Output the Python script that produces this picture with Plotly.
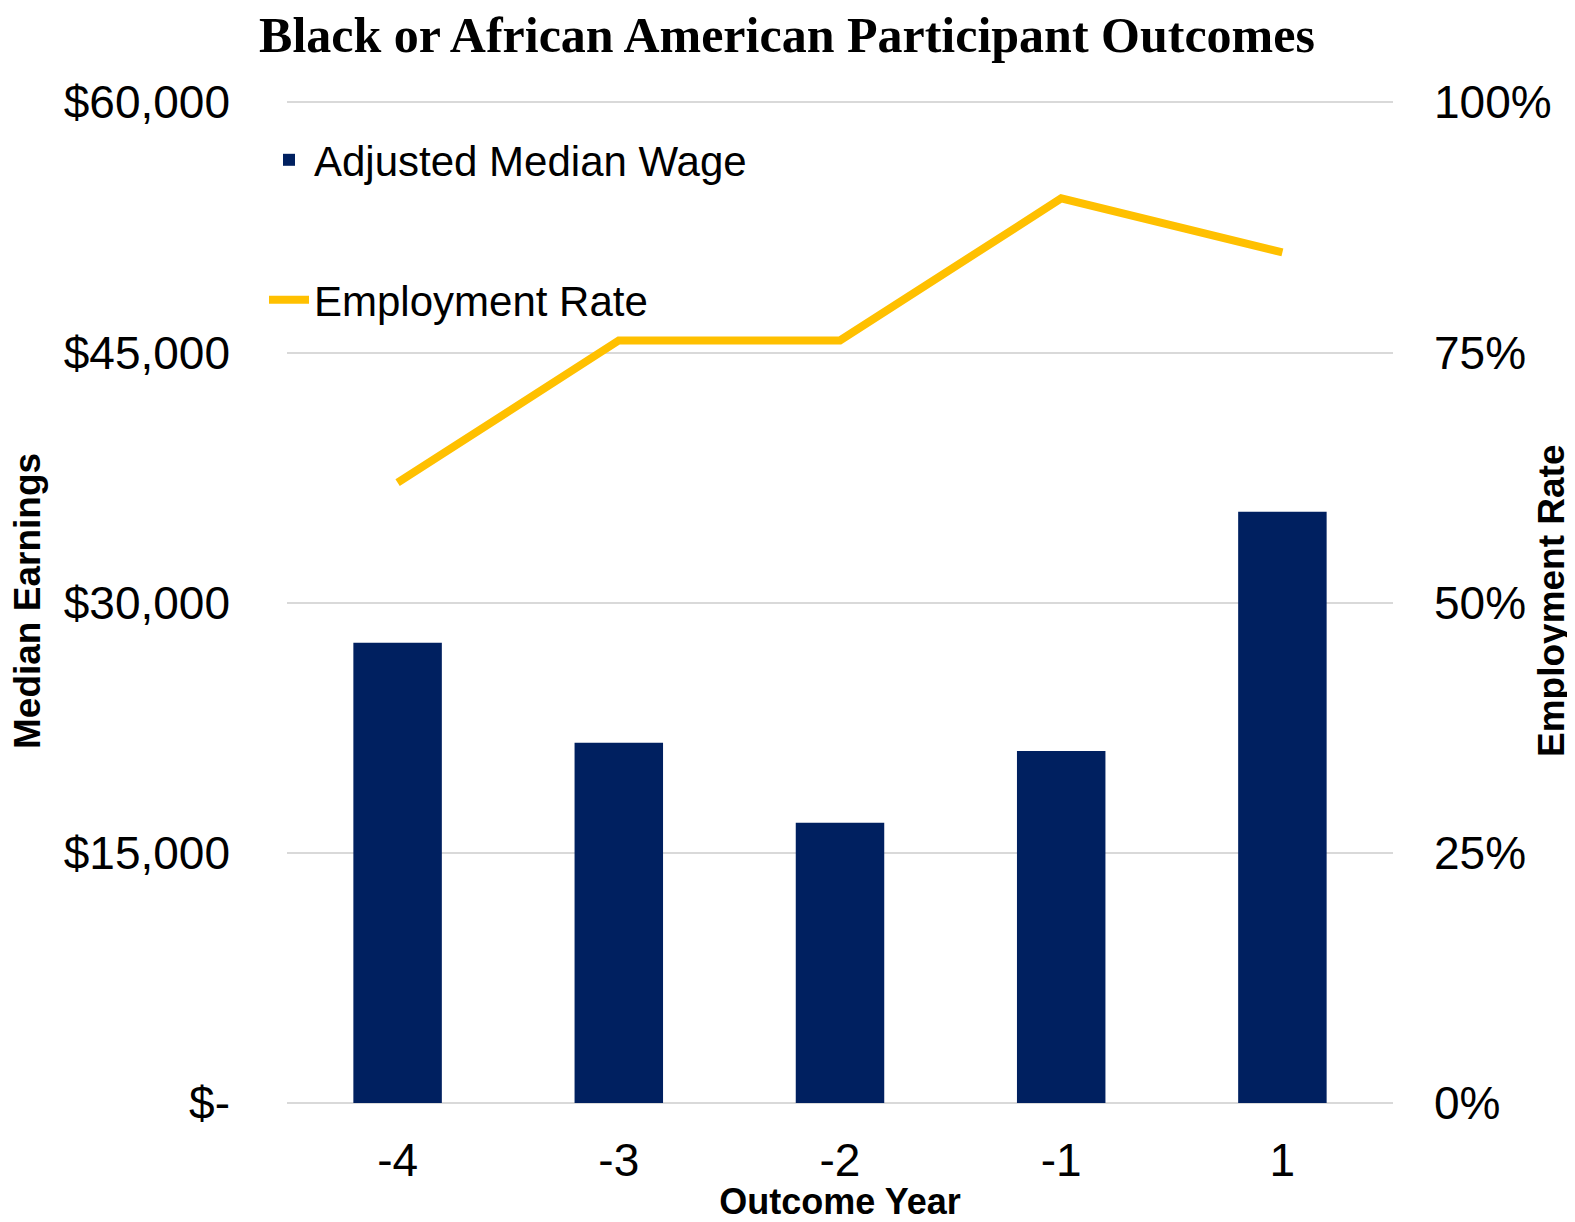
import plotly.graph_objects as go

years = ["-4", "-3", "-2", "-1", "1"]
median_wage = [27600, 21600, 16800, 21100, 35450]
employment_rate = [0.62, 0.762, 0.762, 0.904, 0.850]

left_tickvals = [0, 15000, 30000, 45000, 60000]
left_ticktext = ["$-", "$15,000", "$30,000", "$45,000", "$60,000"]
right_tickvals = [0, 0.25, 0.5, 0.75, 1.0]
right_ticktext = ["0%", "25%", "50%", "75%", "100%"]

FONT = "Liberation Sans, Arial, sans-serif"
W, H = 1567, 1214  # page body has an 8px default margin
ML, MR, MT, MB = 279, 182, 91, 119
PW, PH = W - ML - MR, H - MT - MB


def px_to_paper_x(px):
    return (px - 8 - ML) / PW


def px_to_paper_y(py):
    return 1 - (py - 8 - MT) / PH


fig = go.Figure()
fig.add_trace(go.Bar(x=years, y=median_wage, name="Adjusted Median Wage",
                     marker=dict(color="#002060", line=dict(width=0)),
                     legend="legend"))
fig.add_trace(go.Scatter(x=years, y=employment_rate, name="Employment Rate",
                         mode="lines", yaxis="y2",
                         line=dict(color="#FFC000", width=8),
                         legend="legend2"))

fig.update_layout(
    width=W, height=H,
    margin=dict(l=ML, r=MR, t=MT, b=MB, autoexpand=False),
    paper_bgcolor="white", plot_bgcolor="white",
    bargap=0.6,
    title=dict(text="<b>Black or African American Participant Outcomes</b>",
               x=(787 - 8) / W, xref="container", xanchor="center",
               y=1 - 26 / H, yref="container", yanchor="middle",
               font=dict(family="Liberation Serif, Times New Roman, serif", size=50, color="black")),
    xaxis=dict(type="category", showgrid=False, showline=False, ticks="",
               tickfont=dict(family=FONT, size=46, color="black"),
               ticklabelstandoff=26,
               title=dict(text="<b>Outcome Year</b>", standoff=0,
                          font=dict(family=FONT, size=36, color="black"))),
    yaxis=dict(range=[0, 60200], tickvals=left_tickvals, ticktext=left_ticktext,
               showgrid=True, gridcolor="#D9D9D9", gridwidth=2,
               zeroline=True, zerolinecolor="#D9D9D9", zerolinewidth=2,
               showline=False, ticks="",
               tickfont=dict(family=FONT, size=46, color="black"),
               ticklabelstandoff=56),
    yaxis2=dict(range=[0, 60200 / 60000], tickvals=right_tickvals, ticktext=right_ticktext,
                overlaying="y", side="right", showgrid=False, zeroline=False,
                showline=False, ticks="",
                tickfont=dict(family=FONT, size=46, color="black"),
                ticklabelstandoff=40),
    legend=dict(x=256 / W, xref="container", xanchor="left",
                y=1 - 152 / H, yref="container", yanchor="middle",
                font=dict(family=FONT, size=42, color="black"),
                bgcolor="rgba(0,0,0,0)", itemwidth=40),
    legend2=dict(x=256 / W, xref="container", xanchor="left",
                 y=1 - 292 / H, yref="container", yanchor="middle",
                 font=dict(family=FONT, size=42, color="black"),
                 bgcolor="rgba(0,0,0,0)", itemwidth=40),
    showlegend=True,
    annotations=[
        dict(text="<b>Median Earnings</b>", textangle=-90, showarrow=False,
             xref="paper", yref="paper", x=px_to_paper_x(27), y=px_to_paper_y(601),
             xanchor="center", yanchor="middle",
             font=dict(family=FONT, size=37, color="black")),
        dict(text="<b>Employment Rate</b>", textangle=-90, showarrow=False,
             xref="paper", yref="paper", x=px_to_paper_x(1551), y=px_to_paper_y(601),
             xanchor="center", yanchor="middle",
             font=dict(family=FONT, size=37, color="black")),
    ],
)

fig.write_html("out.html")
